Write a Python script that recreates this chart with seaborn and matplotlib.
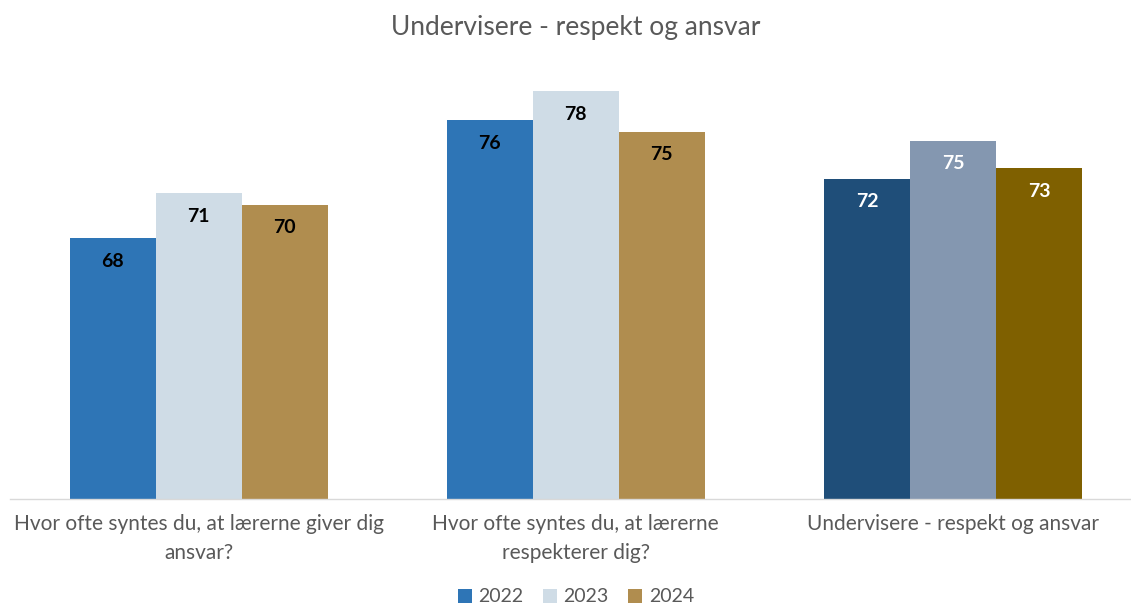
import matplotlib
matplotlib.use("Agg")
import matplotlib.pyplot as plt
import seaborn as sns
import pandas as pd

# Data
questions = [
    "Hvor ofte syntes du, at lærerne giver dig\nansvar?",
    "Hvor ofte syntes du, at lærerne\nrespekterer dig?",
    "Undervisere - respekt og ansvar",
]
years = ["2022", "2023", "2024"]
v2022 = [67.9, 76.0, 72.0]
v2023 = [71.0, 78.0, 74.6]
v2024 = [70.2, 75.2, 72.7]

colors = ["#2E75B6", "#CFDCE6", "#B08D4F"]
colors_total = ["#1F4E79", "#8497B0", "#7F6000"]

rows = []
for year, vals in zip(years, [v2022, v2023, v2024]):
    for q, v in zip(questions, vals):
        rows.append({"question": q, "year": year, "value": v})
df = pd.DataFrame(rows)

sns.set_style("white")
plt.rcParams["font.family"] = ["Lato", "DejaVu Sans"]
text_color = "#595959"

fig = plt.figure(figsize=(11.31, 6.08), dpi=100)
ax = fig.add_axes([10 / 1131, 1 - 499 / 608, 1121 / 1131, (499 - 62) / 608])

sns.barplot(data=df, x="question", y="value", hue="year", palette=colors,
            width=0.684, linewidth=0, saturation=1, ax=ax, legend=True)

ax.set_ylim(50, 80)
ax.set_xlim(-0.5, (1131 - 199) / 377)

# darker colours for the total group + labels
for i, cont in enumerate(ax.containers):
    for j, p in enumerate(cont):
        label_color = "black"
        if j == 2:
            p.set_facecolor(colors_total[i])
            label_color = "white"
        h = p.get_height()
        ax.annotate(f"{h:.0f}", (p.get_x() + p.get_width() / 2, h),
                    xytext=(0, -16.5), textcoords="offset points",
                    ha="center", va="center", fontsize=14,
                    fontweight="bold", color=label_color)

for s in ["top", "right", "left"]:
    ax.spines[s].set_visible(False)
ax.spines["bottom"].set_color("#D9D9D9")
ax.spines["bottom"].set_linewidth(1)
ax.set_yticks([])
ax.set_xlabel("")
ax.set_ylabel("")
ax.tick_params(axis="x", length=0, pad=11, labelsize=15, labelcolor=text_color)
for t in ax.get_xticklabels():
    t.set_linespacing(1.55)

fig.text(576 / 1131, 1 - 27 / 608, "Undervisere - respekt og ansvar", ha="center",
         va="center", fontsize=19, color=text_color)

handles, labels = ax.get_legend_handles_labels()
ax.legend(handles, labels, loc="center", bbox_to_anchor=(576 / 1131, 1 - 597 / 608),
          bbox_transform=fig.transFigure, ncol=3, frameon=False, fontsize=14,
          handlelength=0.7, handleheight=0.7, handletextpad=0.35,
          columnspacing=1.0, labelcolor=text_color)

fig.savefig("out.png", dpi=100)
